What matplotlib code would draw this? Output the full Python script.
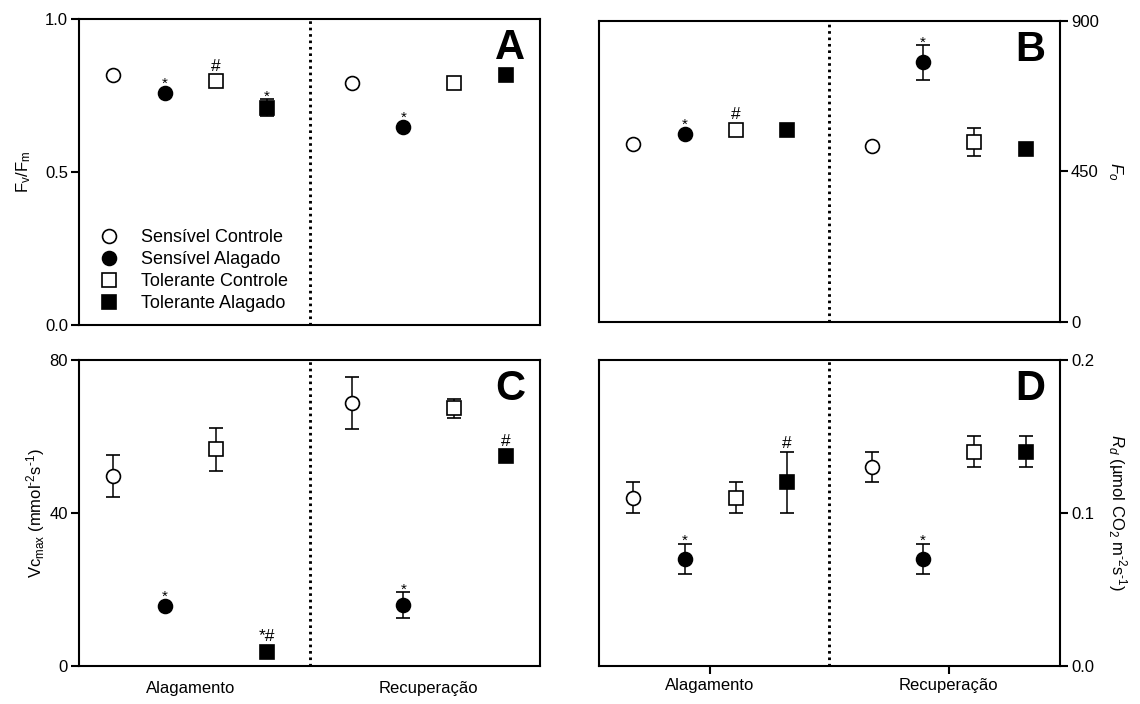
import numpy as np
import matplotlib.pyplot as plt
from matplotlib.lines import Line2D

plt.rcParams['font.family'] = 'Liberation Sans'
plt.rcParams['mathtext.fontset'] = 'custom'
plt.rcParams['mathtext.rm'] = 'Liberation Sans'
plt.rcParams['mathtext.it'] = 'Liberation Sans:italic'
plt.rcParams['mathtext.bf'] = 'Liberation Sans:bold'

periods    = ['Alagamento', 'Recuperação']
treatments = ['Sensível Controle', 'Sensível Alagado',
              'Tolerante Controle', 'Tolerante Alagado']

# rows = period, columns = treatment
fvfm       = [[0.818, 0.757, 0.797, 0.710], [0.790, 0.648, 0.790, 0.818]]
fvfm_err   = [[0, 0, 0, 0.028], [0, 0, 0, 0]]
fvfm_marks = [['', '*', '#', '*'], ['', '*', '', '']]

fo       = [[531, 561, 575, 573], [525, 776, 538, 516]]
fo_err   = [[0, 0, 0, 0], [0, 52, 41, 0]]
fo_marks = [['', '*', '#', ''], ['', '*', '', '']]

vcmax       = [[49.7, 15.7, 56.7, 3.7], [68.8, 15.9, 67.4, 54.9]]
vcmax_err   = [[5.4, 0, 5.6, 0], [6.8, 3.4, 2.5, 0]]
vcmax_marks = [['', '*', '', '*#'], ['', '*', '', '#']]

rd       = [[0.110, 0.070, 0.110, 0.120], [0.130, 0.070, 0.140, 0.140]]
rd_err   = [[0.01, 0.01, 0.01, 0.02], [0.01, 0.01, 0.01, 0.01]]
rd_marks = [['', '*', '', '#'], ['', '*', '', '']]

markers = ['o', 'o', 's', 's']
faces   = ['white', 'black', 'white', 'black']
starts  = [0.67, 5.33]
centers = [s + 1.5 for s in starts]


def panel(ax, vals, errs, marks, ymax, yticks, ylabel, letter, right=False):
    for g in range(2):
        for i in range(4):
            x = starts[g] + i
            ax.errorbar(x, vals[g][i], yerr=errs[g][i], fmt=markers[i], ms=10,
                        mfc=faces[i], mec='black', mew=1.2, ecolor='black',
                        elinewidth=1.1, capsize=4.8, capthick=1.1)
            m = marks[g][i]
            if m:
                top = vals[g][i] + errs[g][i]
                off = 0 if errs[g][i] else 5
                if m == '*':
                    off -= 1.2
                    fs = 11
                else:
                    off += 2.5
                    fs = 12.5
                ax.annotate(m, (x, top), xytext=(0, off), textcoords='offset points',
                            ha='center', va='baseline', fontsize=fs)
    ax.axvline(4.5, color='black', ls=(0, (0.9, 1.3)), lw=2.1)
    ax.set_xlim(0, 9)
    ax.set_ylim(0, ymax)
    ax.set_yticks(yticks)
    for s in ax.spines.values():
        s.set_linewidth(1.5)
    ax.tick_params(axis='y', width=1.5, length=6, labelsize=12, pad=2)
    ax.text(0.935, 0.905, letter, transform=ax.transAxes, ha='center', va='center',
            fontsize=30, fontweight='bold')
    if right:
        ax.yaxis.tick_right()
        ax.yaxis.set_label_position('right')
        ax.set_ylabel(ylabel, fontsize=12, rotation=270, va='bottom')
        ax.yaxis.set_label_coords(1.1, 0.5)
    else:
        ax.set_ylabel(ylabel, fontsize=12)


fig = plt.figure(figsize=(11.4, 7.04), dpi=100)
axA = fig.add_axes([0.0693, 0.5384, 0.4044, 0.4347])
axB = fig.add_axes([0.5254, 0.5426, 0.4044, 0.4276])
axC = fig.add_axes([0.0693, 0.054, 0.4044, 0.4347])
axD = fig.add_axes([0.5254, 0.054, 0.4044, 0.4347])

panel(axA, fvfm, fvfm_err, fvfm_marks, 1.0, [0.0, 0.5, 1.0],
      r'F$_\mathrm{v}$/F$_\mathrm{m}$', 'A')
axA.set_yticklabels(['0.0', '0.5', '1.0'])
axA.yaxis.set_label_coords(-0.10, 0.5)

panel(axB, fo, fo_err, fo_marks, 900, [0, 450, 900], r'$F_o$', 'B', right=True)

panel(axC, vcmax, vcmax_err, vcmax_marks, 80, [0, 40, 80],
      r'Vc$_\mathrm{max}$ (mmol$^\text{-2}$s$^\text{-1}$)', 'C')
axC.yaxis.set_label_coords(-0.07, 0.5)

panel(axD, rd, rd_err, rd_marks, 0.2, [0.0, 0.1, 0.2],
      r'$R_d$ (µmol CO$_\mathrm{2}$ m$^\text{-2}$s$^\text{-1}$)', 'D', right=True)
axD.set_yticklabels(['0.0', '0.1', '0.2'])

for ax in (axA, axB):
    ax.set_xticks([])
axC.set_xticks(centers, periods)
axC.tick_params(axis='x', length=0, labelsize=12, pad=11)
axD.set_xticks(centers, periods)
axD.tick_params(axis='x', length=6, width=1.5, labelsize=12, pad=3)

handles = [Line2D([], [], ls='none', marker=markers[i], ms=10, mfc=faces[i],
                  mec='black', mew=1.2) for i in range(4)]
axA.legend(handles, treatments, loc='lower left', bbox_to_anchor=(0.0455, 0.042),
           frameon=False, fontsize=13, handlelength=1.0, handletextpad=1.25,
           labelspacing=0.28, borderpad=0, borderaxespad=0)

fig.savefig('out.png', dpi=100)
